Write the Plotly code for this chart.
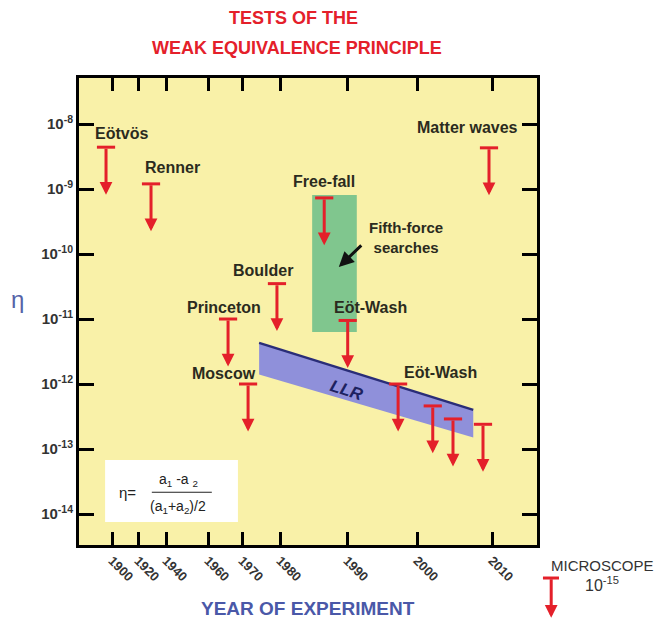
import numpy as np
import plotly.graph_objects as go

# ---------------- data ----------------
# non-uniform year axis of the original figure: tick years and their axis positions
tick_years = [1900, 1920, 1940, 1960, 1970, 1980, 1990, 2000, 2010]
tick_pos = [33, 59, 87, 129, 163, 201, 268, 338, 413]

# upper limits on eta (drawn as arrows)
exp_names = ["Eötvös", "Renner", "Princeton", "Moscow", "Boulder", "Free-fall",
             "Eöt-Wash", "Eöt-Wash", "", "", "", "Matter waves"]
exp_years = [1895.4, 1929.3, 1965.9, 1971.6, 1979.2, 1986.6,
             1990.1, 1997.3, 2002.1, 2004.8, 2008.8, 2009.6]
exp_limits = [4.4e-9, 1.2e-9, 1.0e-11, 1.0e-12, 3.5e-11, 7.3e-10,
              9.5e-12, 1.0e-12, 4.6e-13, 2.9e-13, 2.4e-13, 4.3e-9]

# fifth-force searches region
fifth_years = [1984.8, 1991.4]
fifth_eta = [6.3e-12, 8.1e-10]

# Lunar laser ranging band
llr_years = [1974.5, 2007.5]
llr_upper = [4.3e-12, 4.0e-13]
llr_lower = [1.4e-12, 1.5e-13]

y_tick_exp = [-8, -9, -10, -11, -12, -13, -14]

# ---------------- styles ----------------
RED = "#e4202a"
TXT = "#2b2b1e"
FONT = "Liberation Sans, Arial, sans-serif"
ARROW_DECADES = 0.73
# label offsets in pixels (dx, dy up) relative to each arrow cap
label_offsets = [(15, 14), (21, 16), (-4, 12), (-24, 11), (-14, 13), (0, 16),
                 (23, 13), (42, 12), (0, 0), (0, 0), (0, 0), (-22, 20)]


def xmap(years):
    yr = np.atleast_1d(np.asarray(years, dtype=float))
    out = np.interp(yr, tick_years, tick_pos)
    lo = yr < tick_years[0]
    out[lo] = tick_pos[0] + (yr[lo] - tick_years[0]) * (tick_pos[1] - tick_pos[0]) / (tick_years[1] - tick_years[0])
    hi = yr > tick_years[-1]
    out[hi] = tick_pos[-1] + (yr[hi] - tick_years[-1]) * (tick_pos[-1] - tick_pos[-2]) / (tick_years[-1] - tick_years[-2])
    return out


def note(**kw):
    d = dict(showarrow=False, xanchor="center", yanchor="middle")
    d.update(kw)
    return d


fig = go.Figure()

# fifth-force rectangle
fx = xmap(fifth_years)
fig.add_trace(go.Scatter(
    x=[fx[0], fx[1], fx[1], fx[0], fx[0]],
    y=[fifth_eta[0], fifth_eta[0], fifth_eta[1], fifth_eta[1], fifth_eta[0]],
    fill="toself", fillcolor="#80c68e", line=dict(width=0), mode="lines",
    hoverinfo="skip", showlegend=False))

# LLR band
lx = xmap(llr_years)
fig.add_trace(go.Scatter(
    x=[lx[0], lx[1], lx[1], lx[0], lx[0]],
    y=[llr_upper[0], llr_upper[1], llr_lower[1], llr_lower[0], llr_upper[0]],
    fill="toself", fillcolor="#8f90da", line=dict(width=0), mode="lines",
    hoverinfo="skip", showlegend=False))
fig.add_trace(go.Scatter(
    x=lx, y=llr_upper, mode="lines", line=dict(color="#2a2d78", width=2.5),
    hoverinfo="skip", showlegend=False))

# arrow caps
ex = xmap(exp_years)
fig.add_trace(go.Scatter(
    x=ex, y=exp_limits, mode="markers",
    marker=dict(symbol="line-ew", size=13, line=dict(width=3, color=RED), color=RED),
    hovertext=[f"{n} {v:.1e}" for n, v in zip(exp_names, exp_limits)],
    showlegend=False))

annotations = []
# arrows
for xi, lim in zip(ex, exp_limits):
    ly = np.log10(lim)
    annotations.append(dict(
        x=xi, y=ly - ARROW_DECADES, ax=xi, ay=ly, axref="x", ayref="y",
        xref="x", yref="y", text="", showarrow=True, arrowhead=2,
        arrowsize=0.85, arrowwidth=3, arrowcolor=RED, standoff=0, startstandoff=0))

# labels
for name, xi, lim, (dx, dy) in zip(exp_names, ex, exp_limits, label_offsets):
    if not name:
        continue
    annotations.append(note(
        x=xi, y=np.log10(lim), xref="x", yref="y", text=name,
        xshift=dx, yshift=dy, font=dict(family=FONT, size=16, color=TXT, weight="bold")))

# fifth-force text and arrow
annotations.append(note(
    x=fx[1], y=np.log10(fifth_eta[1]), xref="x", yref="y",
    text="Fifth-force<br>searches", xshift=49, yshift=-43,
    font=dict(family=FONT, size=15, color=TXT, weight="bold"), align="center"))
annotations.append(dict(
    x=fx[1], y=np.log10(fifth_eta[1]), xref="x", yref="y", text="", showarrow=True,
    xshift=-18, yshift=-72, ax=24, ay=-23, arrowhead=2, arrowsize=1.0,
    arrowwidth=3, arrowcolor="#111111", standoff=0))

# LLR label
annotations.append(note(
    x=float(np.mean(lx)) - 19, y=np.log10(np.sqrt(llr_upper[0] * llr_lower[1])),
    xref="x", yref="y", text="<i>LLR</i>", textangle=18,
    font=dict(family=FONT, size=17, color="#1d2260", weight="bold")))

# title
annotations.append(note(x=0.469, y=1.128, xref="paper", yref="paper", text="TESTS OF THE",
                        font=dict(family=FONT, size=18, color=RED, weight="bold")))
annotations.append(note(x=0.476, y=1.064, xref="paper", yref="paper",
                        text="WEAK EQUIVALENCE PRINCIPLE",
                        font=dict(family=FONT, size=18, color=RED, weight="bold")))
# axis titles
annotations.append(note(x=0.5, y=-0.135, xref="paper", yref="paper", text="YEAR OF EXPERIMENT",
                        font=dict(family=FONT, size=19, color="#4a58a8", weight="bold")))
annotations.append(note(x=-0.135, y=0.525, xref="paper", yref="paper", text="η",
                        font=dict(family=FONT, size=24, color="#5563a8")))

# formula box
annotations.append(note(x=0.105, y=0.113, xref="paper", yref="paper", text="η=",
                        font=dict(family=FONT, size=15, color="#222222")))
annotations.append(note(x=0.218, y=0.139, xref="paper", yref="paper",
                        text="a<sub>1</sub> -a <sub>2</sub>",
                        font=dict(family=FONT, size=14, color="#222222")))
annotations.append(note(x=0.216, y=0.081, xref="paper", yref="paper",
                        text="(a<sub>1</sub>+a<sub>2</sub>)/2",
                        font=dict(family=FONT, size=14, color="#222222")))

# microscope note
annotations.append(note(x=1.144, y=-0.043, xref="paper", yref="paper", text="MICROSCOPE",
                        font=dict(family=FONT, size=15, color="#333333")))
annotations.append(note(x=1.142, y=-0.083, xref="paper", yref="paper", text="10<sup>-15</sup>",
                        font=dict(family=FONT, size=16, color="#333333")))
annotations.append(dict(x=1.031, y=-0.156, xref="paper", yref="paper", text="", showarrow=True,
                        ax=0, ay=-40, arrowhead=2, arrowsize=0.85, arrowwidth=3,
                        arrowcolor=RED, standoff=0))

shapes = [
    dict(type="rect", xref="paper", yref="paper", x0=0.057, x1=0.347, y0=0.049, y1=0.182,
         fillcolor="white", line=dict(width=0), layer="above"),
    dict(type="line", xref="paper", yref="paper", x0=0.159, x1=0.290, y0=0.113, y1=0.113,
         line=dict(color="#222222", width=1.2), layer="above"),
    dict(type="line", xref="paper", yref="paper", x0=1.013, x1=1.048, y0=-0.0707, y1=-0.0707,
         line=dict(color=RED, width=3)),
]

# the page body adds an 8px margin, so the figure is 8px smaller than the window
fig.update_layout(
    width=655, height=613,
    margin=dict(l=71, r=126, t=70, b=76),
    paper_bgcolor="white", plot_bgcolor="#f9f1a8",
    showlegend=False,
    annotations=annotations, shapes=shapes,
    font=dict(family=FONT),
)
fig.update_xaxes(
    range=[0, 458], tickmode="array", tickvals=tick_pos, ticktext=[str(y) for y in tick_years],
    tickangle=45, ticks="inside", ticklen=13, tickwidth=3, tickcolor="black",
    showline=True, linewidth=3, linecolor="black", mirror="ticks", showgrid=False, zeroline=False,
    tickfont=dict(family=FONT, size=13, color="#333333", weight="bold"))
fig.update_yaxes(
    type="log", range=[-14.477, -7.292], tickmode="array",
    tickvals=[10.0 ** e for e in y_tick_exp],
    ticktext=[f"10<sup>{e}</sup>" for e in y_tick_exp],
    ticks="inside", ticklen=15, tickwidth=3, tickcolor="black",
    showline=True, linewidth=3, linecolor="black", mirror="ticks", showgrid=False, zeroline=False,
    tickfont=dict(family=FONT, size=15, color="#333333", weight="bold"))

fig.write_html("out.html")
